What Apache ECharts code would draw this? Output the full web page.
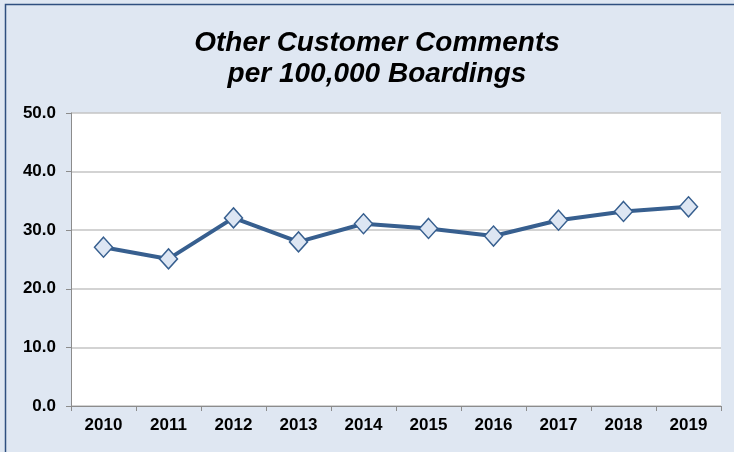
<!DOCTYPE html>
<html>
<head>
<meta charset="utf-8">
<script src="https://cdn.jsdelivr.net/npm/echarts@6/dist/echarts.min.js"></script>
<style>
  html, body { margin: 0; padding: 0; }
</style>
</head>
<body>
<div id="chart" style="width: 734px; height: 452px;"></div>
<script>
  // 年份
  var years = ['2010', '2011', '2012', '2013', '2014', '2015', '2016', '2017', '2018', '2019'];
  // 每10万次乘车的其他意见数
  var comments = [27.1, 25.1, 32.1, 28.0, 31.1, 30.3, 29.0, 31.7, 33.2, 34.0];
  var yTicks = { min: 0, max: 50, interval: 10 };

  var font = '"Liberation Sans", Arial';

  var myChart = echarts.init(document.getElementById('chart'));
  myChart.setOption({
    backgroundColor: '#dfe7f2',
    title: {
      text: 'Other Customer Comments\nper 100,000 Boardings',
      left: 372,
      top: 23,
      textAlign: 'center',
      textStyle: {
        fontFamily: font,
        fontStyle: 'italic',
        fontWeight: 'bold',
        fontSize: 28,
        lineHeight: 31,
        color: '#000'
      }
    },
    graphic: [{
      type: 'rect',
      shape: { x: 5.5, y: 4.5, width: 760, height: 470 },
      style: { fill: 'none', stroke: '#2f4f7f', lineWidth: 1.5 },
      silent: true
    }],
    grid: {
      left: 71,
      right: 13,
      top: 113,
      bottom: 46,
      show: true,
      backgroundColor: '#fff',
      borderWidth: 0
    },
    xAxis: {
      type: 'category',
      data: years,
      boundaryGap: true,
      axisLine: { lineStyle: { color: '#8c8c8c', width: 1 } },
      axisTick: { show: true, length: 5, lineStyle: { color: '#8c8c8c' } },
      axisLabel: {
        margin: 11,
        color: '#000',
        fontFamily: font,
        fontWeight: 'bold',
        fontSize: 17
      }
    },
    yAxis: {
      type: 'value',
      min: yTicks.min,
      max: yTicks.max,
      interval: yTicks.interval,
      axisLine: { show: true, lineStyle: { color: '#8c8c8c', width: 1 } },
      axisTick: { show: true, length: 5, lineStyle: { color: '#8c8c8c' } },
      splitLine: { lineStyle: { color: '#c4c4c4', width: 1.5 } },
      axisLabel: {
        margin: 15,
        color: '#000',
        fontFamily: font,
        fontWeight: 'bold',
        fontSize: 17,
        formatter: function (v) { return v.toFixed(1); }
      }
    },
    series: [{
      type: 'line',
      data: comments,
      symbol: 'diamond',
      symbolSize: [18, 20],
      lineStyle: { color: '#375f8f', width: 4 },
      itemStyle: { color: '#dde6f3', borderColor: '#375f8f', borderWidth: 1.5 },
      animation: false
    }]
  });
</script>
</body>
</html>
